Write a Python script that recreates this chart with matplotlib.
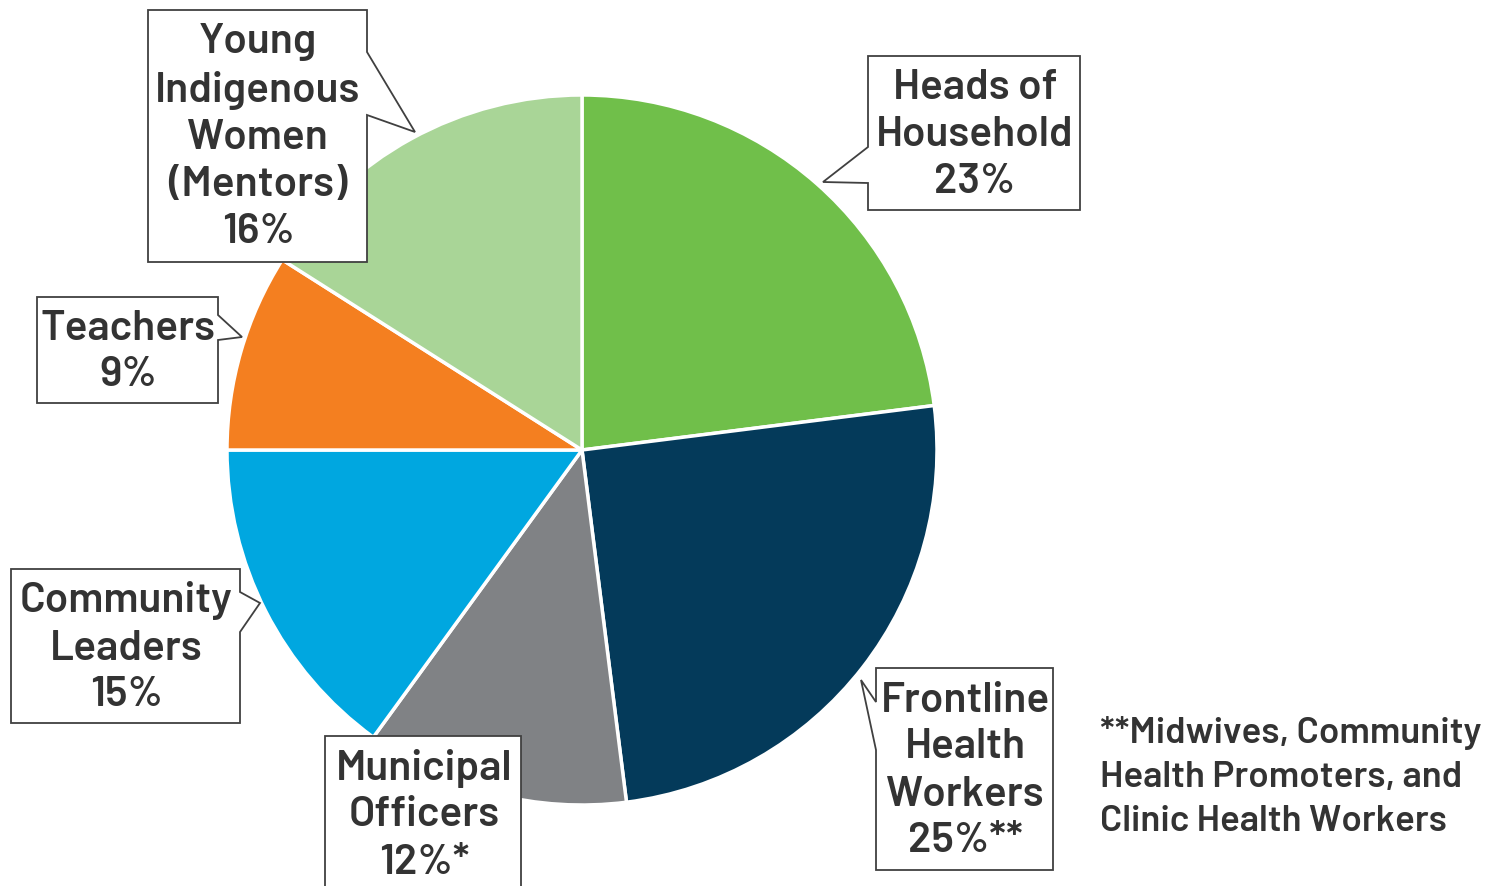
import matplotlib.pyplot as plt
from matplotlib.patches import Polygon

# slice data, clockwise from 12 o'clock
labels = ["Heads of\nHousehold", "Frontline\nHealth\nWorkers", "Municipal\nOfficers",
          "Community\nLeaders", "Teachers", "Young\nIndigenous\nWomen\n(Mentors)"]
shares = [23, 25, 12, 15, 9, 16]
suffix = ["", "**", "*", "", "", ""]
colors = ["#70bf4a", "#043a5a", "#808285", "#00a7e0", "#f47f20", "#a9d597"]
footnote = "**Midwives, Community\nHealth Promoters, and\nClinic Health Workers"

W, H = 1503, 886
fig = plt.figure(figsize=(W / 100, H / 100), dpi=100)

font = ['Barlow', 'Barlow Semi Condensed', 'DejaVu Sans']
txt_color = '#333333'

# pie in its own axes, one data unit = one pixel
pax = fig.add_axes([0, 0, 1, 1])
pax.pie(shares, colors=colors, startangle=90, counterclock=False,
        center=(582, H - 450), radius=355,
        wedgeprops=dict(edgecolor='white', linewidth=2.5))
pax.set_xlim(0, W)
pax.set_ylim(0, H)
pax.set_aspect('equal')
pax.axis('off')

# overlay axes in pixel coords (y down) for the callouts
ax = fig.add_axes([0, 0, 1, 1])
ax.set_xlim(0, W)
ax.set_ylim(H, 0)
ax.axis('off')

# callout boxes: box (x0, y0, x1, y1), side of the tail, tail points, text centre
callouts = [
    dict(box=(868, 56, 1080, 210), side='left', tail=[(868, 183), (823, 182), (868, 147)], c=(975, 135)),
    dict(box=(876, 668, 1053, 870), side='left', tail=[(876, 750), (861, 680), (876, 702)], c=(965, 771)),
    dict(box=(325, 736, 521, 900), side=None, tail=[], c=(424, 815)),
    dict(box=(11, 569, 240, 723), side='right', tail=[(240, 592), (260, 603), (240, 632)], c=(126, 648)),
    dict(box=(37, 297, 218, 403), side='right', tail=[(218, 315), (242, 337), (218, 340)], c=(128, 352)),
    dict(box=(148, 10, 367, 262), side='right', tail=[(367, 52), (415, 132), (367, 115)], c=(258, 137)),
]

for i, co in enumerate(callouts):
    x0, y0, x1, y1 = co['box']
    if co['side'] == 'right':
        pts = [(x0, y0), (x1, y0)] + co['tail'] + [(x1, y1), (x0, y1)]
    elif co['side'] == 'left':
        pts = [(x0, y0), (x1, y0), (x1, y1), (x0, y1)] + co['tail']
    else:
        pts = [(x0, y0), (x1, y0), (x1, y1), (x0, y1)]
    ax.add_patch(Polygon(pts, closed=True, facecolor='white', edgecolor='#404040',
                         linewidth=1.3, zorder=3, clip_on=False))
    ax.text(co['c'][0], co['c'][1], f"{labels[i]}\n{shares[i]}%{suffix[i]}",
            ha='center', va='center', multialignment='center', fontsize=30.5,
            family=font, fontweight=600, color=txt_color, zorder=4, linespacing=1.30)

ax.text(1100, 777, footnote, ha='left', va='center', fontsize=26.5, family=font,
        fontweight=600, color=txt_color, linespacing=1.41, zorder=4)

fig.savefig('out.png', dpi=100)
